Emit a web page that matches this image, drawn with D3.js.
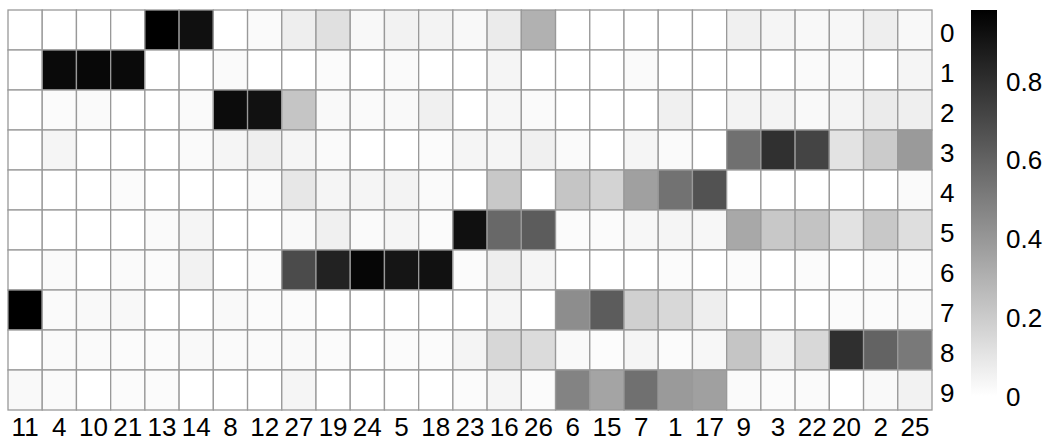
<!DOCTYPE html>
<html>
<head>
<meta charset="utf-8">
<script src="https://cdn.jsdelivr.net/npm/d3@7"></script>
<style>
  html, body { margin: 0; padding: 0; background: #fff; }
  text { font-family: "Liberation Sans", Arial, sans-serif; fill: #000; }
</style>
</head>
<body>
<svg id="chart" width="1051" height="444"></svg>
<script>
// Column order (clustered) and row labels
const colLabels = ["11","4","10","21","13","14","8","12","27","19","24","5","18","23","16","26","6","15","7","1","17","9","3","22","20","2","25"];
const rowLabels = ["0","1","2","3","4","5","6","7","8","9"];

// One array per row, values in column order above
const row0 = [0,0,0,0,0.98,0.92,0,0.02,0.065,0.12,0.027,0.05,0.046,0.027,0.077,0.30,0,0,0,0,0,0.058,0.038,0.027,0.03,0.065,0.027];
const row1 = [0,0.94,0.95,0.94,0,0,0.019,0,0,0.015,0,0.019,0,0,0.038,0,0,0,0.019,0,0,0,0,0.019,0.023,0,0.038];
const row2 = [0,0.015,0.019,0,0,0.019,0.935,0.915,0.223,0.023,0.019,0.023,0.058,0,0.035,0.019,0,0,0,0.058,0,0.046,0.042,0.023,0.042,0.077,0.06];
const row3 = [0,0.038,0,0,0,0.019,0.038,0.06,0.038,0.019,0,0,0.015,0.038,0.038,0.058,0.019,0,0.038,0.019,0,0.55,0.795,0.72,0.108,0.20,0.39];
const row4 = [0,0,0,0.015,0,0,0,0.019,0.092,0.038,0.038,0.046,0.019,0,0.21,0,0.223,0.17,0.365,0.54,0.665,0,0,0,0,0,0.019];
const row5 = [0,0,0,0,0.019,0.038,0,0,0.023,0.058,0.019,0.038,0.015,0.92,0.58,0.626,0.015,0.015,0.03,0.038,0.03,0.334,0.21,0.23,0.11,0.21,0.127];
const row6 = [0,0.019,0,0.019,0.015,0.05,0,0.015,0.69,0.85,0.957,0.90,0.915,0.015,0.065,0.038,0,0,0,0.015,0,0.015,0,0.015,0,0.015,0.015];
const row7 = [0.98,0.019,0.023,0.027,0,0,0.023,0.015,0.015,0,0,0,0,0,0.038,0,0.44,0.626,0.18,0.15,0.065,0,0,0,0.015,0.015,0.019];
const row8 = [0,0.019,0.019,0.015,0.015,0.023,0.019,0.019,0.023,0.015,0,0.015,0.015,0.042,0.154,0.14,0.023,0.01,0.038,0.015,0.03,0.223,0.058,0.15,0.80,0.60,0.515];
const row9 = [0.023,0.019,0,0.015,0.015,0,0,0,0.038,0,0,0,0,0.015,0.038,0.015,0.477,0.35,0.55,0.39,0.365,0.019,0.015,0.019,0,0.023,0.05];
const rows = [row0,row1,row2,row3,row4,row5,row6,row7,row8,row9];

// Colour-bar tick labels
const legendTicks = [0, 0.2, 0.4, 0.6, 0.8];
const maxValue = 0.98;

const svg = d3.select("#chart");

const grid = { left: 8, top: 10, width: 924, height: 400 };

const x = d3.scaleBand().domain(colLabels).range([grid.left, grid.left + grid.width]);
const y = d3.scaleBand().domain(rowLabels).range([grid.top, grid.top + grid.height]);
const color = d3.scaleLinear().domain([0, maxValue]).range(["#ffffff", "#000000"]).clamp(true);

const cells = [];
rows.forEach((r, i) => r.forEach((v, j) => cells.push({ row: rowLabels[i], col: colLabels[j], v })));

svg.append("g")
  .selectAll("rect")
  .data(cells)
  .join("rect")
  .attr("x", d => x(d.col))
  .attr("y", d => y(d.row))
  .attr("width", x.bandwidth())
  .attr("height", y.bandwidth())
  .attr("fill", d => color(d.v))
  .attr("stroke", "#999999")
  .attr("stroke-width", 1.3);

// Column labels under the grid
svg.append("g")
  .selectAll("text")
  .data(colLabels)
  .join("text")
  .attr("x", d => x(d) + x.bandwidth() / 2)
  .attr("y", grid.top + grid.height + 26)
  .attr("text-anchor", "middle")
  .style("font-size", "26px")
  .text(d => d);

// Row labels on the right
svg.append("g")
  .selectAll("text")
  .data(rowLabels)
  .join("text")
  .attr("x", grid.left + grid.width + 8)
  .attr("y", d => y(d) + y.bandwidth() / 2)
  .attr("dy", "0.45em")
  .style("font-size", "26px")
  .text(d => d);

// Colour bar
const bar = { x: 971, width: 26, top: 10, bottom: 396 };
const ly = d3.scaleLinear().domain([0, maxValue]).range([bar.bottom, bar.top]);

const defs = svg.append("defs");
const grad = defs.append("linearGradient")
  .attr("id", "legend-grad")
  .attr("x1", 0).attr("y1", 1).attr("x2", 0).attr("y2", 0);
d3.range(0, 1.0001, 0.1).forEach(t => {
  grad.append("stop").attr("offset", t).attr("stop-color", color(t * maxValue));
});

svg.append("rect")
  .attr("x", bar.x)
  .attr("y", bar.top)
  .attr("width", bar.width)
  .attr("height", bar.bottom - bar.top)
  .attr("fill", "url(#legend-grad)");

svg.append("g")
  .selectAll("text")
  .data(legendTicks)
  .join("text")
  .attr("x", 1006)
  .attr("y", d => ly(d))
  .attr("dy", "0.37em")
  .style("font-size", "26px")
  .text(d => d3.format("")(d));
</script>
</body>
</html>
